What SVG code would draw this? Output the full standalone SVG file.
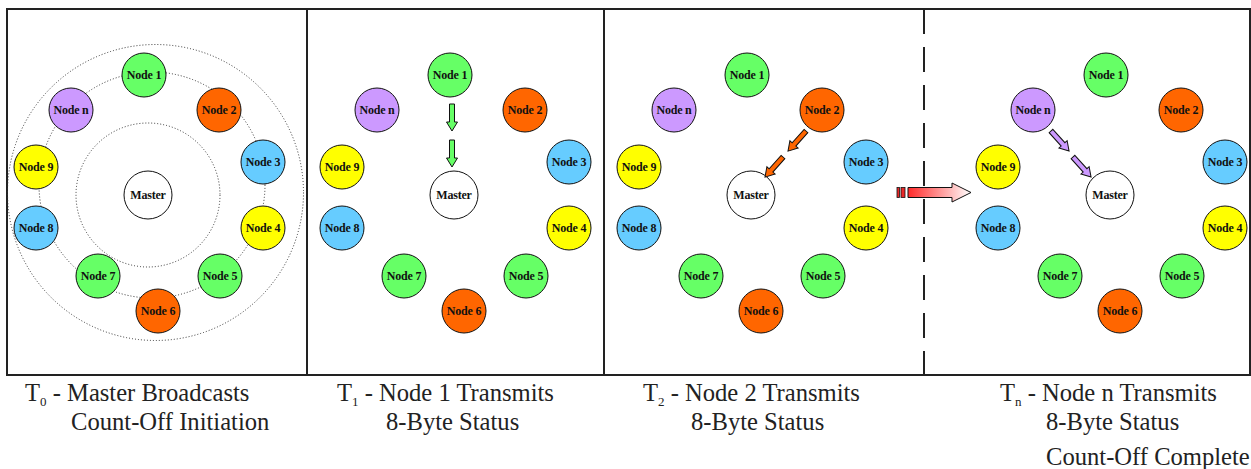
<svg xmlns="http://www.w3.org/2000/svg" xmlns:xlink="http://www.w3.org/1999/xlink" width="1251" height="469" viewBox="0 0 1251 469">
<style>
.n circle{stroke:#111;stroke-width:1}
.n text{font-family:"Liberation Serif","Times New Roman",serif;font-weight:bold;font-size:12px;fill:#111;text-anchor:middle;letter-spacing:-0.2px}
.g{fill:#66FF66}.o{fill:#FF6600}.b{fill:#66CCFF}.y{fill:#FFFF00}.p{fill:#CC99FF}.w{fill:#FFFFFF}
.cap{font-family:"Liberation Serif","Times New Roman",serif;font-size:24.6px;fill:#222}
.sub{font-size:13px}
.dot{fill:none;stroke:#333;stroke-width:1;stroke-dasharray:1 2}
.frame{fill:none;stroke:#222;stroke-width:2}
.arr{stroke:#111;stroke-width:1}
</style>
<defs>
<path id="arrow" d="M0,-2.5 H18 V-5.5 L27,0 L18,5.5 V2.5 H0 Z"/>
<linearGradient id="redgrad" gradientUnits="userSpaceOnUse" x1="908" y1="0" x2="971" y2="0">
<stop offset="0" stop-color="#FF2A2A"/>
<stop offset="1" stop-color="#FFFFFF"/>
</linearGradient>
</defs>
<rect width="1251" height="469" fill="#FFFFFF"/>
<g id="frames">
<rect class="frame" x="7" y="9" width="1243" height="366"/>
<line class="frame" x1="307" y1="9" x2="307" y2="375"/>
<rect class="frame" x="307" y="9" width="297" height="366" stroke-width="2.5"/>
<line class="frame" x1="924" y1="9" x2="924" y2="375" stroke-dasharray="25 13"/>
</g>
<g id="rings">
<circle class="dot" cx="155.5" cy="192.5" r="148"/>
<circle class="dot" cx="152" cy="185" r="113"/>
<circle class="dot" cx="148" cy="195" r="72"/>
</g>
<g id="panel1">
<g id="p1-node1" class="n"><circle class="g" cx="144" cy="75" r="22"/><text x="144" y="79">Node 1</text></g>
<g id="p1-node2" class="n"><circle class="o" cx="219" cy="110" r="22"/><text x="219" y="114">Node 2</text></g>
<g id="p1-node3" class="n"><circle class="b" cx="263" cy="162" r="22"/><text x="263" y="166">Node 3</text></g>
<g id="p1-node4" class="n"><circle class="y" cx="263" cy="228" r="22"/><text x="263" y="232">Node 4</text></g>
<g id="p1-node5" class="n"><circle class="g" cx="220" cy="276" r="22"/><text x="220" y="280">Node 5</text></g>
<g id="p1-node6" class="n"><circle class="o" cx="158" cy="311" r="22"/><text x="158" y="315">Node 6</text></g>
<g id="p1-node7" class="n"><circle class="g" cx="98" cy="276" r="22"/><text x="98" y="280">Node 7</text></g>
<g id="p1-node8" class="n"><circle class="b" cx="36" cy="228" r="22"/><text x="36" y="232">Node 8</text></g>
<g id="p1-node9" class="n"><circle class="y" cx="36" cy="167" r="22"/><text x="36" y="171">Node 9</text></g>
<g id="p1-noden" class="n"><circle class="p" cx="71" cy="110" r="22"/><text x="71" y="114">Node n</text></g>
<g id="p1-master" class="n"><circle class="w" cx="148" cy="195" r="24"/><text x="148" y="199">Master</text></g>
</g>
<g id="panel2" transform="translate(306,0)">
<g id="p2-node1" class="n"><circle class="g" cx="144" cy="75" r="22"/><text x="144" y="79">Node 1</text></g>
<g id="p2-node2" class="n"><circle class="o" cx="219" cy="110" r="22"/><text x="219" y="114">Node 2</text></g>
<g id="p2-node3" class="n"><circle class="b" cx="263" cy="162" r="22"/><text x="263" y="166">Node 3</text></g>
<g id="p2-node4" class="n"><circle class="y" cx="263" cy="228" r="22"/><text x="263" y="232">Node 4</text></g>
<g id="p2-node5" class="n"><circle class="g" cx="220" cy="276" r="22"/><text x="220" y="280">Node 5</text></g>
<g id="p2-node6" class="n"><circle class="o" cx="158" cy="311" r="22"/><text x="158" y="315">Node 6</text></g>
<g id="p2-node7" class="n"><circle class="g" cx="98" cy="276" r="22"/><text x="98" y="280">Node 7</text></g>
<g id="p2-node8" class="n"><circle class="b" cx="36" cy="228" r="22"/><text x="36" y="232">Node 8</text></g>
<g id="p2-node9" class="n"><circle class="y" cx="36" cy="167" r="22"/><text x="36" y="171">Node 9</text></g>
<g id="p2-noden" class="n"><circle class="p" cx="71" cy="110" r="22"/><text x="71" y="114">Node n</text></g>
<g id="p2-master" class="n"><circle class="w" cx="148" cy="195" r="24"/><text x="148" y="199">Master</text></g>
</g>
<g id="panel3" transform="translate(603,0)">
<g id="p3-node1" class="n"><circle class="g" cx="144" cy="75" r="22"/><text x="144" y="79">Node 1</text></g>
<g id="p3-node2" class="n"><circle class="o" cx="219" cy="110" r="22"/><text x="219" y="114">Node 2</text></g>
<g id="p3-node3" class="n"><circle class="b" cx="263" cy="162" r="22"/><text x="263" y="166">Node 3</text></g>
<g id="p3-node4" class="n"><circle class="y" cx="263" cy="228" r="22"/><text x="263" y="232">Node 4</text></g>
<g id="p3-node5" class="n"><circle class="g" cx="220" cy="276" r="22"/><text x="220" y="280">Node 5</text></g>
<g id="p3-node6" class="n"><circle class="o" cx="158" cy="311" r="22"/><text x="158" y="315">Node 6</text></g>
<g id="p3-node7" class="n"><circle class="g" cx="98" cy="276" r="22"/><text x="98" y="280">Node 7</text></g>
<g id="p3-node8" class="n"><circle class="b" cx="36" cy="228" r="22"/><text x="36" y="232">Node 8</text></g>
<g id="p3-node9" class="n"><circle class="y" cx="36" cy="167" r="22"/><text x="36" y="171">Node 9</text></g>
<g id="p3-noden" class="n"><circle class="p" cx="71" cy="110" r="22"/><text x="71" y="114">Node n</text></g>
<g id="p3-master" class="n"><circle class="w" cx="148" cy="195" r="24"/><text x="148" y="199">Master</text></g>
</g>
<g id="panel4" transform="translate(962,0)">
<g id="p4-node1" class="n"><circle class="g" cx="144" cy="75" r="22"/><text x="144" y="79">Node 1</text></g>
<g id="p4-node2" class="n"><circle class="o" cx="219" cy="110" r="22"/><text x="219" y="114">Node 2</text></g>
<g id="p4-node3" class="n"><circle class="b" cx="263" cy="162" r="22"/><text x="263" y="166">Node 3</text></g>
<g id="p4-node4" class="n"><circle class="y" cx="263" cy="228" r="22"/><text x="263" y="232">Node 4</text></g>
<g id="p4-node5" class="n"><circle class="g" cx="220" cy="276" r="22"/><text x="220" y="280">Node 5</text></g>
<g id="p4-node6" class="n"><circle class="o" cx="158" cy="311" r="22"/><text x="158" y="315">Node 6</text></g>
<g id="p4-node7" class="n"><circle class="g" cx="98" cy="276" r="22"/><text x="98" y="280">Node 7</text></g>
<g id="p4-node8" class="n"><circle class="b" cx="36" cy="228" r="22"/><text x="36" y="232">Node 8</text></g>
<g id="p4-node9" class="n"><circle class="y" cx="36" cy="167" r="22"/><text x="36" y="171">Node 9</text></g>
<g id="p4-noden" class="n"><circle class="p" cx="71" cy="110" r="22"/><text x="71" y="114">Node n</text></g>
<g id="p4-master" class="n"><circle class="w" cx="148" cy="195" r="24"/><text x="148" y="199">Master</text></g>
</g>
<g id="connectors">
<use xlink:href="#arrow" href="#arrow" class="arr g" transform="translate(452,104) rotate(90)"/>
<use xlink:href="#arrow" href="#arrow" class="arr g" transform="translate(452,140) rotate(90)"/>
<use xlink:href="#arrow" href="#arrow" class="arr o" transform="translate(806,131) rotate(131.8)"/>
<use xlink:href="#arrow" href="#arrow" class="arr o" transform="translate(783,157) rotate(131.8)"/>
<use xlink:href="#arrow" href="#arrow" class="arr p" transform="translate(1051,131) rotate(48)"/>
<use xlink:href="#arrow" href="#arrow" class="arr p" transform="translate(1073,157) rotate(48)"/>
<g id="time-arrow">
<rect x="897" y="187.5" width="2.5" height="10" fill="#E82828" stroke="#111" stroke-width="0.8"/>
<rect x="901" y="187.5" width="4" height="10" fill="#E82828" stroke="#111" stroke-width="0.8"/>
<path d="M908,187.5 H952 V183 L971,192.5 L952,202 V197.5 H908 Z" fill="url(#redgrad)" stroke="#111" stroke-width="1"/>
</g>
</g>
<g id="captions" class="cap">
<text x="25" y="401">T<tspan class="sub" dy="5">0</tspan><tspan dy="-5"> - Master Broadcasts</tspan></text>
<text x="71" y="430">Count-Off Initiation</text>
<text x="337" y="401">T<tspan class="sub" dy="5">1</tspan><tspan dy="-5"> - Node 1 Transmits</tspan></text>
<text x="386" y="430">8-Byte Status</text>
<text x="643" y="401">T<tspan class="sub" dy="5">2</tspan><tspan dy="-5"> - Node 2 Transmits</tspan></text>
<text x="691" y="430">8-Byte Status</text>
<text x="1000" y="401">T<tspan class="sub" dy="5">n</tspan><tspan dy="-5"> - Node n Transmits</tspan></text>
<text x="1046" y="430">8-Byte Status</text>
<text x="1046" y="465">Count-Off Complete</text>
</g>
</svg>
